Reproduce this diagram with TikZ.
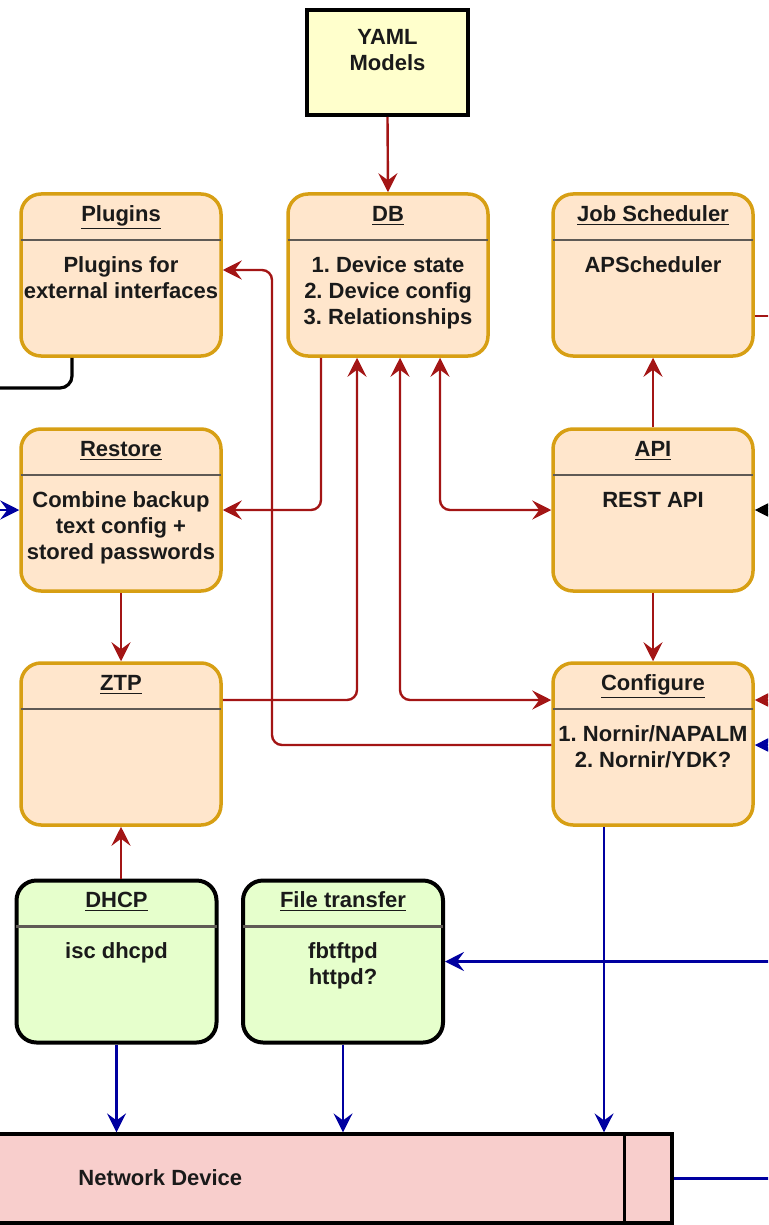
\documentclass[tikz,border=0pt]{standalone}
\usepackage{fontspec}
\setmainfont{Liberation Sans}
\usetikzlibrary{arrows.meta}
\definecolor{boxgold}{HTML}{D79F14}
\definecolor{boxfill}{HTML}{FFE6CC}
\definecolor{svcfill}{HTML}{E6FFCC}
\definecolor{yamlfill}{HTML}{FFFFCC}
\definecolor{devfill}{HTML}{F8CECC}
\definecolor{sepgray}{HTML}{5F5A55}
\definecolor{linered}{HTML}{A31515}
\definecolor{lineblue}{HTML}{0000A0}
\definecolor{textcol}{HTML}{1A1A1A}
\frenchspacing
\begin{document}
\begin{tikzpicture}[x=0.5pt, y=-0.5pt, >={Stealth[length=9.5pt,width=9.5pt,inset=3.5pt]},
  font=\fontsize{11}{13}\selectfont\bfseries, text=textcol,
  box/.style={draw=boxgold, fill=boxfill, line width=1.75pt, rounded corners=10pt, minimum width=100pt, minimum height=81pt},
  svcbox/.style={box, draw=black, fill=svcfill, line width=2pt},
  boxtitle/.style={anchor=base, inner sep=0pt},
  boxbody/.style={anchor=north, align=center, inner sep=0pt},
  sepline/.style={draw=sepgray, line width=1.1pt, shorten <=0.85pt, shorten >=0.85pt},
  redline/.style={draw=linered, line width=1.2pt, rounded corners=5pt},
  blueline/.style={draw=lineblue, line width=1.1pt, rounded corners=5pt},
  blackline/.style={draw=black, line width=1.6pt, rounded corners=6pt}]
  \useasboundingbox (0,0) rectangle (768,1225);
  \clip (0,0) rectangle (768,1225);

  \node[draw, line width=2pt, fill=yamlfill, minimum width=80.5pt, minimum height=52.5pt] (yaml) at (387.5,62.5) {};
  \node[boxbody] (yaml-t) at ([yshift=-10.5pt]yaml.north) {YAML\\Models};

  \node[box] (plugins) at (121,275) {};
  \node[boxtitle] (plugins-t) at ([yshift=-14.5pt]plugins.north) {\underline{Plugins}};
  \draw[sepline] ([yshift=-24pt]plugins.north west) -- ([yshift=-24pt]plugins.north east);
  \node[boxbody] (plugins-b) at ([yshift=-32pt]plugins.north) {Plugins for\\external interfaces};

  \node[box] (db) at (388,275) {};
  \node[boxtitle] (db-t) at ([yshift=-14.5pt]db.north) {\underline{DB}};
  \draw[sepline] ([yshift=-24pt]db.north west) -- ([yshift=-24pt]db.north east);
  \node[boxbody] (db-b) at ([yshift=-32pt]db.north) {1. Device state\\2. Device config\\3. Relationships};

  \node[box] (job) at (653,275) {};
  \node[boxtitle] (job-t) at ([yshift=-14.5pt]job.north) {\underline{Job Scheduler}};
  \draw[sepline] ([yshift=-24pt]job.north west) -- ([yshift=-24pt]job.north east);
  \node[boxbody] (job-b) at ([yshift=-32pt]job.north) {APScheduler};

  \node[box] (restore) at (121,510) {};
  \node[boxtitle] (restore-t) at ([yshift=-14.5pt]restore.north) {\underline{Restore}};
  \draw[sepline] ([yshift=-24pt]restore.north west) -- ([yshift=-24pt]restore.north east);
  \node[boxbody] (restore-b) at ([yshift=-32pt]restore.north) {Combine backup\\text config +\\stored passwords};

  \node[box] (api) at (653,510) {};
  \node[boxtitle] (api-t) at ([yshift=-14.5pt]api.north) {\underline{API}};
  \draw[sepline] ([yshift=-24pt]api.north west) -- ([yshift=-24pt]api.north east);
  \node[boxbody] (api-b) at ([yshift=-32pt]api.north) {REST API};

  \node[box] (ztp) at (121,744) {};
  \node[boxtitle] (ztp-t) at ([yshift=-14.5pt]ztp.north) {\underline{ZTP}};
  \draw[sepline] ([yshift=-24pt]ztp.north west) -- ([yshift=-24pt]ztp.north east);

  \node[box] (configure) at (653,744) {};
  \node[boxtitle] (configure-t) at ([yshift=-14.5pt]configure.north) {\underline{Configure}};
  \draw[sepline] ([yshift=-24pt]configure.north west) -- ([yshift=-24pt]configure.north east);
  \node[boxbody] (configure-b) at ([yshift=-32pt]configure.north) {1. Nornir/NAPALM\\2. Nornir/YDK?};

  \node[svcbox] (dhcp) at (116.5,961.5) {};
  \node[boxtitle] (dhcp-t) at ([yshift=-14.5pt]dhcp.north) {\underline{DHCP}};
  \draw[sepline] ([yshift=-24pt]dhcp.north west) -- ([yshift=-24pt]dhcp.north east);
  \node[boxbody] (dhcp-b) at ([yshift=-32pt]dhcp.north) {isc dhcpd};

  \node[svcbox] (filetransfer) at (343,961.5) {};
  \node[boxtitle] (filetransfer-t) at ([yshift=-14.5pt]filetransfer.north) {\underline{File transfer}};
  \draw[sepline] ([yshift=-24pt]filetransfer.north west) -- ([yshift=-24pt]filetransfer.north east);
  \node[boxbody] (filetransfer-b) at ([yshift=-32pt]filetransfer.north) {fbtftpd\\httpd?};

  \node[draw, line width=1.6pt, fill=devfill, minimum width=341pt, minimum height=44.5pt] (netdev) at (331,1178.5) {};
  \draw[line width=1.6pt] ([xshift=-24.5pt]netdev.north east) -- ([xshift=-24.5pt]netdev.south east);
  \node[anchor=west, inner sep=0pt] (netdev-t) at (78,1178) {Network Device};

  \coordinate (plugbus) at (272,500);
  \coordinate (plugout) at (-10,388);
  \coordinate (cfgout) at ([xshift=-24.5pt]configure.south);

  \draw[redline, ->] (yaml.south) -- (db.north);
  \draw[redline, ->] ([xshift=-33.5pt]db.south) |- (restore.east);
  \draw[redline, ->] ([yshift=22pt]ztp.east) -| ([xshift=-15.5pt]db.south);
  \draw[redline, <->] ([xshift=6pt]db.south) |- ([yshift=22pt]configure.west);
  \draw[redline, <->] ([xshift=26pt]db.south) |- (api.west);
  \draw[redline, ->] ([yshift=-0.5pt]configure.west) -| (plugbus) |- ([yshift=2.5pt]plugins.east);
  \draw[redline, ->] (api.north) -- (job.south);
  \draw[redline, ->] (api.south) -- (configure.north);
  \draw[redline, ->] (restore.south) -- (ztp.north);
  \draw[redline, ->] (ztp.south |- dhcp.north) -- (ztp.south);
  \draw[redline] ([yshift=-20.5pt]job.east) -- ++(12pt,0);
  \draw[redline, <-] ([yshift=22pt]configure.east) -- ++(12pt,0);
  \draw[blackline, <-] (api.east) -- ++(12pt,0);
  \draw[blueline, <-] ([yshift=-0.5pt]configure.east) -- ++(12pt,0);
  \draw[blueline, <-] (filetransfer.east) -- ++(170pt,0);
  \draw[blueline, <-] (restore.west) -- ++(-12pt,0);
  \draw[blackline] ([xshift=-24.5pt]plugins.south) |- (plugout);
  \draw[blueline, ->] (dhcp.south) -- (dhcp.south |- netdev.north);
  \draw[blueline, ->] (filetransfer.south) -- (filetransfer.south |- netdev.north);
  \draw[blueline, ->] (cfgout) -- (cfgout |- netdev.north);
  \draw[blueline] (netdev.east) -- ++(60pt,0);
\end{tikzpicture}
\end{document}
